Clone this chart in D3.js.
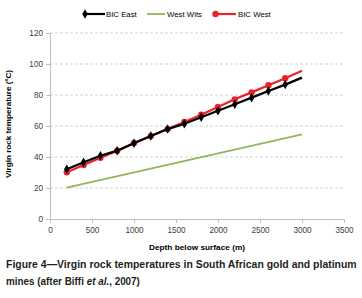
<!DOCTYPE html>
<html><head><meta charset="utf-8">
<script src="https://cdn.jsdelivr.net/npm/d3@7"></script>
<style>html,body{margin:0;padding:0;background:#fff;}svg{display:block;}</style>
</head><body>
<svg id="c" width="362" height="298"></svg>
<script>
const depths = [200,400,600,800,1000,1200,1400,1600,1800,2000,2200,2400,2600,2800,3000];
const bicEast = [32.1,36.6,40.8,44.1,48.8,53.5,58.0,61.5,65.6,69.8,74.0,78.3,82.6,86.7,91.2];
const bicWest = [30.1,34.8,39.5,44.0,49.0,53.5,58.0,62.6,67.3,72.3,77.2,81.7,86.3,90.8,95.7];
const westWitsDepths = [200,3000];
const westWits = [20.2,54.6];
const xTicks = [0,500,1000,1500,2000,2500,3000,3500];
const yTicks = [0,20,40,60,80,100,120];
const seriesNames = ["BIC East","West Wits","BIC West"];

const svg = d3.select("#c");
const font = "'Liberation Sans', Arial, sans-serif";
const x = d3.scaleLinear().domain([0,3500]).range([50,344]);
const y = d3.scaleLinear().domain([0,120]).range([219,33]);
const axisCol = "#bfbfbf", textCol = "#404040";

// grid
svg.append("g").selectAll("line").data(yTicks.filter(v=>v>0)).join("line")
  .attr("x1",50).attr("x2",344).attr("y1",d=>y(d)).attr("y2",d=>y(d))
  .attr("stroke","#c8c8c8").attr("stroke-width",0.8).attr("stroke-dasharray","3,2");

// axes
const yAxis = svg.append("g").attr("transform","translate(50,0)")
  .call(d3.axisLeft(y).tickValues(yTicks).tickFormat(d3.format("d")).tickSize(4).tickPadding(3));
const xAxis = svg.append("g").attr("transform","translate(0,219)")
  .call(d3.axisBottom(x).tickValues(xTicks).tickFormat(d3.format("d")).tickSize(4).tickPadding(4));
[yAxis,xAxis].forEach(a=>{
  a.select(".domain").attr("stroke",axisCol);
  a.selectAll(".tick line").attr("stroke",axisCol);
  a.selectAll("text").attr("fill",textCol).style("font-family",font).style("font-size","8.2px");
});

// lines
const line = d3.line().x(d=>x(d[0])).y(d=>y(d[1]));
const west = depths.map((d,i)=>[d,bicWest[i]]);
const east = depths.map((d,i)=>[d,bicEast[i]]);
const ww = westWitsDepths.map((d,i)=>[d,westWits[i]]);
svg.append("path").datum(ww).attr("d",line).attr("fill","none").attr("stroke","#92b558").attr("stroke-width",1.8);
svg.append("path").datum(west).attr("d",line).attr("fill","none").attr("stroke","#e8232a").attr("stroke-width",2.2);
svg.append("g").selectAll("circle").data(west.slice(0,-1)).join("circle")
  .attr("cx",d=>x(d[0])).attr("cy",d=>y(d[1])).attr("r",3.2).attr("fill","#e8232a");
svg.append("path").datum(east).attr("d",line).attr("fill","none").attr("stroke","#000").attr("stroke-width",2.2);
const diamond = d3.symbol().type(d3.symbolDiamond).size(26);
svg.append("g").selectAll("path").data(east.slice(0,-1)).join("path")
  .attr("d",diamond).attr("transform",d=>`translate(${x(d[0])},${y(d[1])})`).attr("fill","#000");

// legend
const lg = svg.append("g").style("font-family",font).style("font-size","7.8px").attr("fill","#000");
lg.append("line").attr("x1",83).attr("x2",105).attr("y1",14).attr("y2",14).attr("stroke","#000").attr("stroke-width",2.2);
lg.append("path").attr("d",diamond).attr("transform","translate(85,14)").attr("fill","#000");
lg.append("text").attr("x",106).attr("y",16.8).text(seriesNames[0]);
lg.append("line").attr("x1",147).attr("x2",165).attr("y1",14).attr("y2",14).attr("stroke","#92b558").attr("stroke-width",1.8);
lg.append("text").attr("x",167).attr("y",16.8).text(seriesNames[1]);
lg.append("line").attr("x1",213).attr("x2",236).attr("y1",14).attr("y2",14).attr("stroke","#e8232a").attr("stroke-width",2.2);
lg.append("circle").attr("cx",215.5).attr("cy",14).attr("r",3.2).attr("fill","#e8232a");
lg.append("text").attr("x",238).attr("y",16.8).text(seriesNames[2]);

// axis titles
svg.append("text").attr("x",197).attr("y",249.5).attr("text-anchor","middle")
  .style("font-family",font).style("font-size","8px").style("font-weight","bold").attr("fill","#000")
  .attr("textLength",96).attr("lengthAdjust","spacingAndGlyphs")
  .text("Depth below surface (m)");
svg.append("text").attr("transform","translate(11,124) rotate(-90)").attr("text-anchor","middle")
  .style("font-family",font).style("font-size","8px").style("font-weight","bold").attr("fill","#000")
  .attr("textLength",108).attr("lengthAdjust","spacingAndGlyphs")
  .text("Virgin rock temperature (ºC)");

// caption, horizontally condensed to match the reference widths
function fitLine(g, yPos, width, parts){
  const t = g.append("text").attr("x",0).attr("y",0);
  parts.forEach(p=>{ const s=t.append("tspan").text(p.t); if(p.i) s.style("font-style","italic"); });
  const w = t.node().getComputedTextLength();
  t.attr("transform",`translate(6,${yPos}) scale(${width/w},1)`);
}
const cap = svg.append("g").style("font-family",font).style("font-size","10.5px").style("font-weight","bold").attr("fill","#231f20");
fitLine(cap, 267.5, 351, [{t:"Figure 4\u2014Virgin rock temperatures in South African gold and platinum"}]);
fitLine(cap, 284.5, 134, [{t:"mines (after Biffi "},{t:"et al.",i:true},{t:", 2007)"}]);
</script>
</body></html>
